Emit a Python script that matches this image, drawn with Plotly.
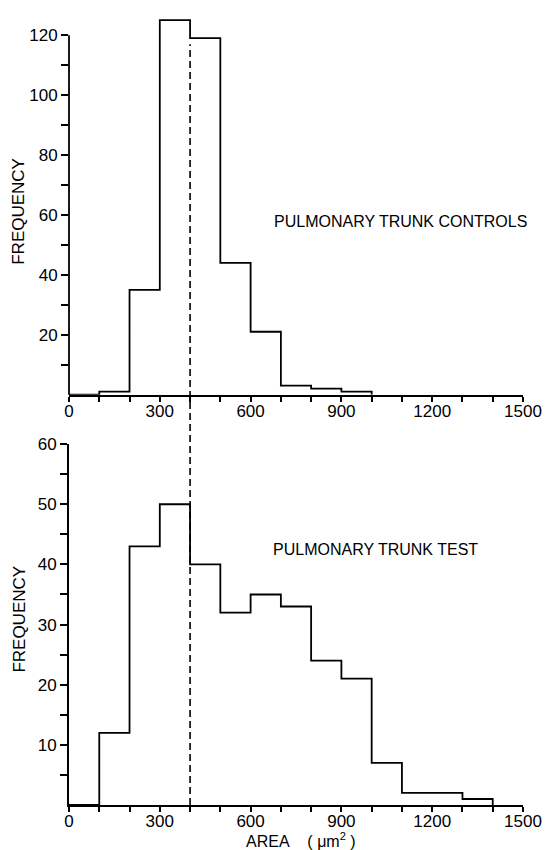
import plotly.graph_objects as go

# ---- data ----
bin_edges_controls = [0, 100, 200, 300, 400, 500, 600, 700, 800, 900, 1000]
freq_controls = [0, 1, 35, 125, 119, 44, 21, 3, 2, 1]

bin_edges_test = [0, 100, 200, 300, 400, 500, 600, 700, 800, 900, 1000, 1100, 1200, 1300, 1400]
freq_test = [0, 12, 43, 50, 40, 32, 35, 33, 24, 21, 7, 2, 2, 1]

x_tick_vals = list(range(0, 1501, 100))
x_tick_labels = ["0", "", "", "300", "", "", "600", "", "", "900", "", "", "1200", "", "", "1500"]
y_top_ticks = list(range(10, 121, 10))
y_top_labels = ["" if v % 20 else str(v) for v in y_top_ticks]
y_bot_ticks = list(range(5, 61, 5))
y_bot_labels = ["" if v % 10 else str(v) for v in y_bot_ticks]

mean_line_x = 400

FONT = "Liberation Sans, Arial, sans-serif"
W, H = 551, 850
OX, OY = 8, 8  # page offset of the figure (body margin)

# target page-pixel geometry
page_x0, page_x1500 = 69, 523
page_top_base, top_px_per_unit = 390.0, 3.03
page_bot_base, page_bot_60 = 805.0, 440.0

ml = page_x0 - OX
mr = W - (page_x1500 - OX)
mt = 0
plot_bottom_fig = page_bot_base - OY
mb = H - plot_bottom_fig
ph = H - mt - mb
pw = W - ml - mr

top_base_fig = page_top_base - OY
top_dom = [(plot_bottom_fig - top_base_fig) / ph, 1.0]
top_range_max = (top_base_fig - mt) / top_px_per_unit
bot_dom = [0.0, (plot_bottom_fig - (page_bot_60 - OY)) / ph]


def px(page_x):
    return (page_x - OX - ml) / pw


def py(page_y):
    return (plot_bottom_fig - (page_y - OY)) / ph


fig = go.Figure()


def step_trace(edges, freqs, xa, ya):
    return go.Scatter(x=list(edges), y=list(freqs) + [0], mode="lines",
                      line=dict(shape="hv", color="black", width=1.8),
                      xaxis=xa, yaxis=ya, showlegend=False, hoverinfo="skip", cliponaxis=False)


fig.add_trace(step_trace(bin_edges_controls, freq_controls, "x", "y"))
fig.add_trace(step_trace(bin_edges_test, freq_test, "x2", "y2"))

xaxis_common = dict(range=[0, 1500], tickmode="array", tickvals=x_tick_vals, ticktext=x_tick_labels,
                    ticks="outside", ticklen=5, tickwidth=1.5, tickcolor="black",
                    showline=True, linecolor="black", linewidth=1.8, showgrid=False, zeroline=False,
                    ticklabelstandoff=-5,
                    tickfont=dict(family=FONT, size=17, color="black"), fixedrange=True)
yaxis_common = dict(ticks="outside", ticklen=7, tickwidth=1.5, tickcolor="black", showgrid=False,
                    zeroline=False, tickfont=dict(family=FONT, size=17, color="black"), tickmode="array")

fig.update_layout(
    width=W, height=H,
    margin=dict(l=ml, r=mr, t=mt, b=mb),
    paper_bgcolor="white", plot_bgcolor="white",
    xaxis=dict(xaxis_common, anchor="y"),
    yaxis=dict(yaxis_common, domain=top_dom, range=[0, top_range_max], tickvals=y_top_ticks,
               ticktext=y_top_labels, showline=False, anchor="x"),
    xaxis2=dict(xaxis_common, anchor="y2"),
    yaxis2=dict(yaxis_common, domain=bot_dom, range=[0, 60], tickvals=y_bot_ticks,
                ticktext=y_bot_labels, showline=True, linecolor="black", linewidth=1.8, anchor="x2"),
)


def top_paper(v):
    return top_dom[0] + (top_dom[1] - top_dom[0]) * v / top_range_max


# top y axis line stops at 120
fig.add_shape(type="line", xref="paper", yref="paper", x0=0, x1=0, y0=top_dom[0], y1=top_paper(120),
              line=dict(color="black", width=1.8))

# dashed vertical line at 400 spanning both panels
fig.add_shape(type="line", xref="x", yref="paper", x0=mean_line_x, x1=mean_line_x,
              y0=0, y1=top_paper(117), line=dict(color="black", width=1.6, dash="7px,4px"))

fig.add_annotation(text="PULMONARY TRUNK CONTROLS", xref="paper", yref="paper", x=px(272), y=py(215),
                   xanchor="left", yanchor="middle", showarrow=False,
                   font=dict(family=FONT, size=16, color="black"))
fig.add_annotation(text="PULMONARY TRUNK TEST", xref="paper", yref="paper", x=px(271), y=py(547),
                   xanchor="left", yanchor="middle", showarrow=False,
                   font=dict(family=FONT, size=16, color="black"))

fig.add_annotation(text="FREQUENCY", xref="paper", yref="paper", x=px(19), y=py(205), textangle=-90,
                   showarrow=False, xanchor="center", yanchor="middle",
                   font=dict(family=FONT, size=17, color="black"))
fig.add_annotation(text="FREQUENCY", xref="paper", yref="paper", x=px(19.5), y=py(617), textangle=-90,
                   showarrow=False, xanchor="center", yanchor="middle",
                   font=dict(family=FONT, size=17, color="black"))
fig.add_annotation(text="AREA&nbsp;&nbsp;&nbsp;&nbsp;(&nbsp;μm<sup>2</sup>&nbsp;)", xref="paper", yref="paper",
                   x=px(301), y=py(840), showarrow=False, xanchor="center", yanchor="middle",
                   font=dict(family=FONT, size=16, color="black"))

fig.write_html("out.html")
